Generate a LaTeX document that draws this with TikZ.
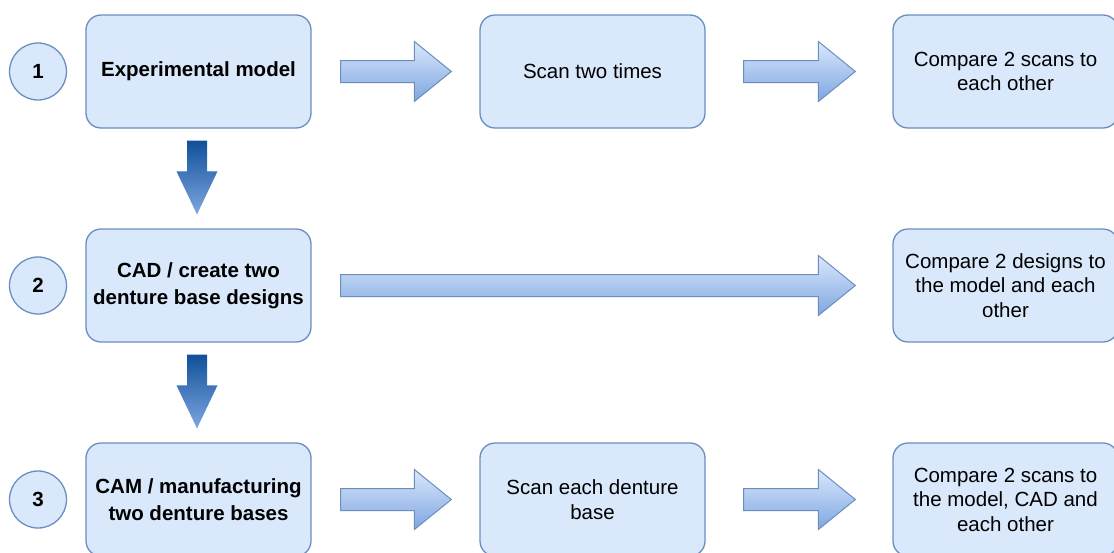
\documentclass[tikz,border=0pt]{standalone}
\usepackage{fontspec}
\setmainfont{Liberation Sans}
\usetikzlibrary{calc}
\definecolor{boxfill}{HTML}{DAE8FC}
\definecolor{boxline}{HTML}{6C8EBF}
\definecolor{arrlight}{HTML}{DAE8FC}
\definecolor{arrmid}{HTML}{7EA6E0}
\definecolor{arrdark}{HTML}{10509A}
\newcommand\harrow[5]{% from, to, start gap, end gap, head length
  \path[harr] let \p1=($(#1.east)+(#3,0)$), \p2=($(#2.west)-(#4,0)$) in
  (\x1,\y1+11pt) -- (\x2-#5pt,\y1+11pt) -- (\x2-#5pt,\y1+30pt) -- (\x2,\y1)
  -- (\x2-#5pt,\y1-30pt) -- (\x2-#5pt,\y1-11pt) -- (\x1,\y1-11pt) -- cycle;}
\newcommand\varrow[2]{% from, to
  \path[varr] let \p1=($(#1.south)+(-1.5,-12)$), \p2=($(#2.north)+(-1.5,14)$) in
  (\x1-10pt,\y1) -- (\x1+10pt,\y1) -- (\x1+10pt,\y2+43pt) -- (\x1+20.5pt,\y2+43pt)
  -- (\x1,\y2) -- (\x1-20.5pt,\y2+43pt) -- (\x1-10pt,\y2+43pt) -- cycle;}
\begin{document}
\begin{tikzpicture}[x=1pt,y=1pt,
  stepbox/.style={draw=boxline, fill=boxfill, line width=1.3pt, rounded corners=15pt,
    minimum width=225pt, minimum height=113pt, align=center, inner sep=0pt,
    font=\fontsize{20.5}{24.5}\selectfont},
  boldbox/.style={stepbox, font=\bfseries\fontsize{20.5}{26.5}\selectfont},
  numcirc/.style={circle, draw=boxline, fill=boxfill, line width=1.3pt,
    minimum size=57pt, inner sep=0pt, font=\bfseries\fontsize{20.5}{24.5}\selectfont},
  harr/.style={draw=boxline, line width=1pt, top color=arrlight, bottom color=arrmid},
  varr/.style={draw=none, top color=arrdark, bottom color=arrmid}]
\clip (0,0) rectangle (1114,-552);
\useasboundingbox (0,0) rectangle (1114,-552);
\fill[white] (0,0) rectangle (1114,-552);
% numbers
\node[numcirc] (c1) at (38,-71.5) {1};
\node[numcirc] (c2) at (38,-285.5) {2};
\node[numcirc] (c3) at (38,-499.5) {3};
% column 1
\node[boldbox] (a1) at (198.5,-71.5) {\raisebox{-2pt}{Experimental model}};
\node[boldbox] (a2) at (198.5,-285.5) {CAD / create two\\denture base designs};
\node[boldbox] (a3) at (198.5,-499.5) {CAM / manufacturing\\two denture bases};
% column 2
\node[stepbox] (b1) at (592.5,-71.5) {Scan two times};
\node[stepbox] (b3) at (592.5,-499.5) {Scan each denture\\base};
% column 3
\node[stepbox] (d1) at (1005.5,-71.5) {Compare 2 scans to\\each other};
\node[stepbox] (d2) at (1005.5,-285.5) {Compare 2 designs to\\the model and each\\other};
\node[stepbox] (d3) at (1005.5,-499.5) {Compare 2 scans to\\the model, CAD and\\each other};
% arrows
\harrow{a1}{b1}{29}{28}{37}
\harrow{b1}{d1}{38}{37}{37}
\harrow{a2}{d2}{29}{37}{37}
\harrow{a3}{b3}{29}{28}{37}
\harrow{b3}{d3}{38}{37}{37}
\varrow{a1}{a2}
\varrow{a2}{a3}
\end{tikzpicture}
\end{document}
